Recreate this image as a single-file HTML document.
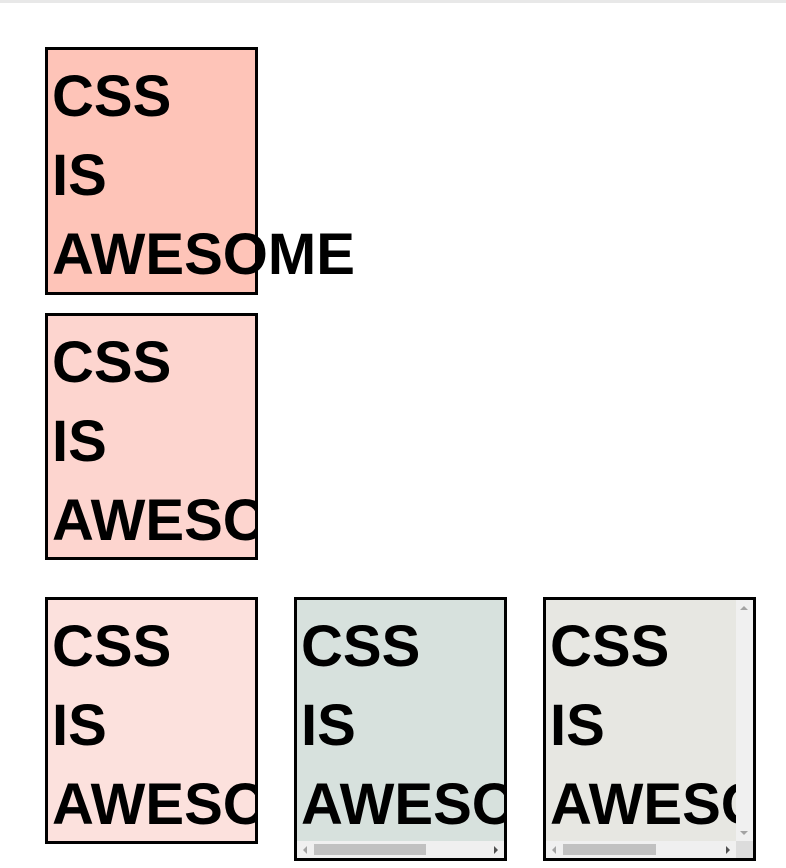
<!DOCTYPE html>
<html><head><style>
html,body{margin:0;padding:0;background:#fff;width:786px;height:868px;overflow:hidden;position:relative}
.top{position:absolute;left:0;top:0;width:786px;height:3px;background:#e8e8e8}
.b{position:absolute;border:3px solid #000;box-sizing:border-box;overflow:visible}
.clip{overflow:hidden}
.t{position:absolute;left:4px;top:7px;font:bold 58px/79px "Liberation Sans",sans-serif;color:#000;white-space:nowrap}
.hs{position:absolute;background:#f0f0f0;height:17px}
.th{position:absolute;background:#c1c1c1;top:3px;height:11px}
.vs{position:absolute;background:#f0f0f0;width:17px}
.ar{position:absolute;width:0;height:0}
</style></head><body>
<div class="top"></div>

<div class="b" style="left:45px;top:47px;width:213px;height:248px;background:#fec4b8">
<div class="t">CSS<br>IS<br>AWESOME</div></div>

<div class="b clip" style="left:45px;top:313px;width:213px;height:247px;background:#fdd5cf">
<div class="t">CSS<br>IS<br>AWESOME</div></div>

<div class="b clip" style="left:45px;top:597px;width:213px;height:247px;background:#fce1dd">
<div class="t">CSS<br>IS<br>AWESOME</div></div>

<div class="b clip" style="left:294px;top:597px;width:213px;height:264px;background:#d7e1dd">
<div class="t">CSS<br>IS<br>AWESOME</div>
<div class="hs" style="left:0;bottom:0;width:207px">
<div class="th" style="left:17px;width:112px"></div>
<div class="ar" style="left:6px;top:5px;border-right:4px solid #a3a3a3;border-top:4px solid transparent;border-bottom:4px solid transparent"></div>
<div class="ar" style="right:6px;top:5px;border-left:4px solid #505050;border-top:4px solid transparent;border-bottom:4px solid transparent"></div>
</div></div>

<div class="b clip" style="left:543px;top:597px;width:213px;height:264px;background:#e7e7e2">
<div class="t">CSS<br>IS<br>AWESOME</div>
<div class="vs" style="right:0;top:0;height:241px">
<div class="ar" style="left:4px;top:6px;border-bottom:4px solid #a3a3a3;border-left:4px solid transparent;border-right:4px solid transparent"></div>
<div class="ar" style="left:4px;bottom:6px;border-top:4px solid #a3a3a3;border-left:4px solid transparent;border-right:4px solid transparent"></div>
</div>
<div class="hs" style="left:0;bottom:0;width:190px">
<div class="th" style="left:17px;width:93px"></div>
<div class="ar" style="left:6px;top:5px;border-right:4px solid #a3a3a3;border-top:4px solid transparent;border-bottom:4px solid transparent"></div>
<div class="ar" style="right:6px;top:5px;border-left:4px solid #505050;border-top:4px solid transparent;border-bottom:4px solid transparent"></div>
</div>
<div style="position:absolute;right:0;bottom:0;width:17px;height:17px;background:#dcdcdc"></div>
</div>
</body></html>
